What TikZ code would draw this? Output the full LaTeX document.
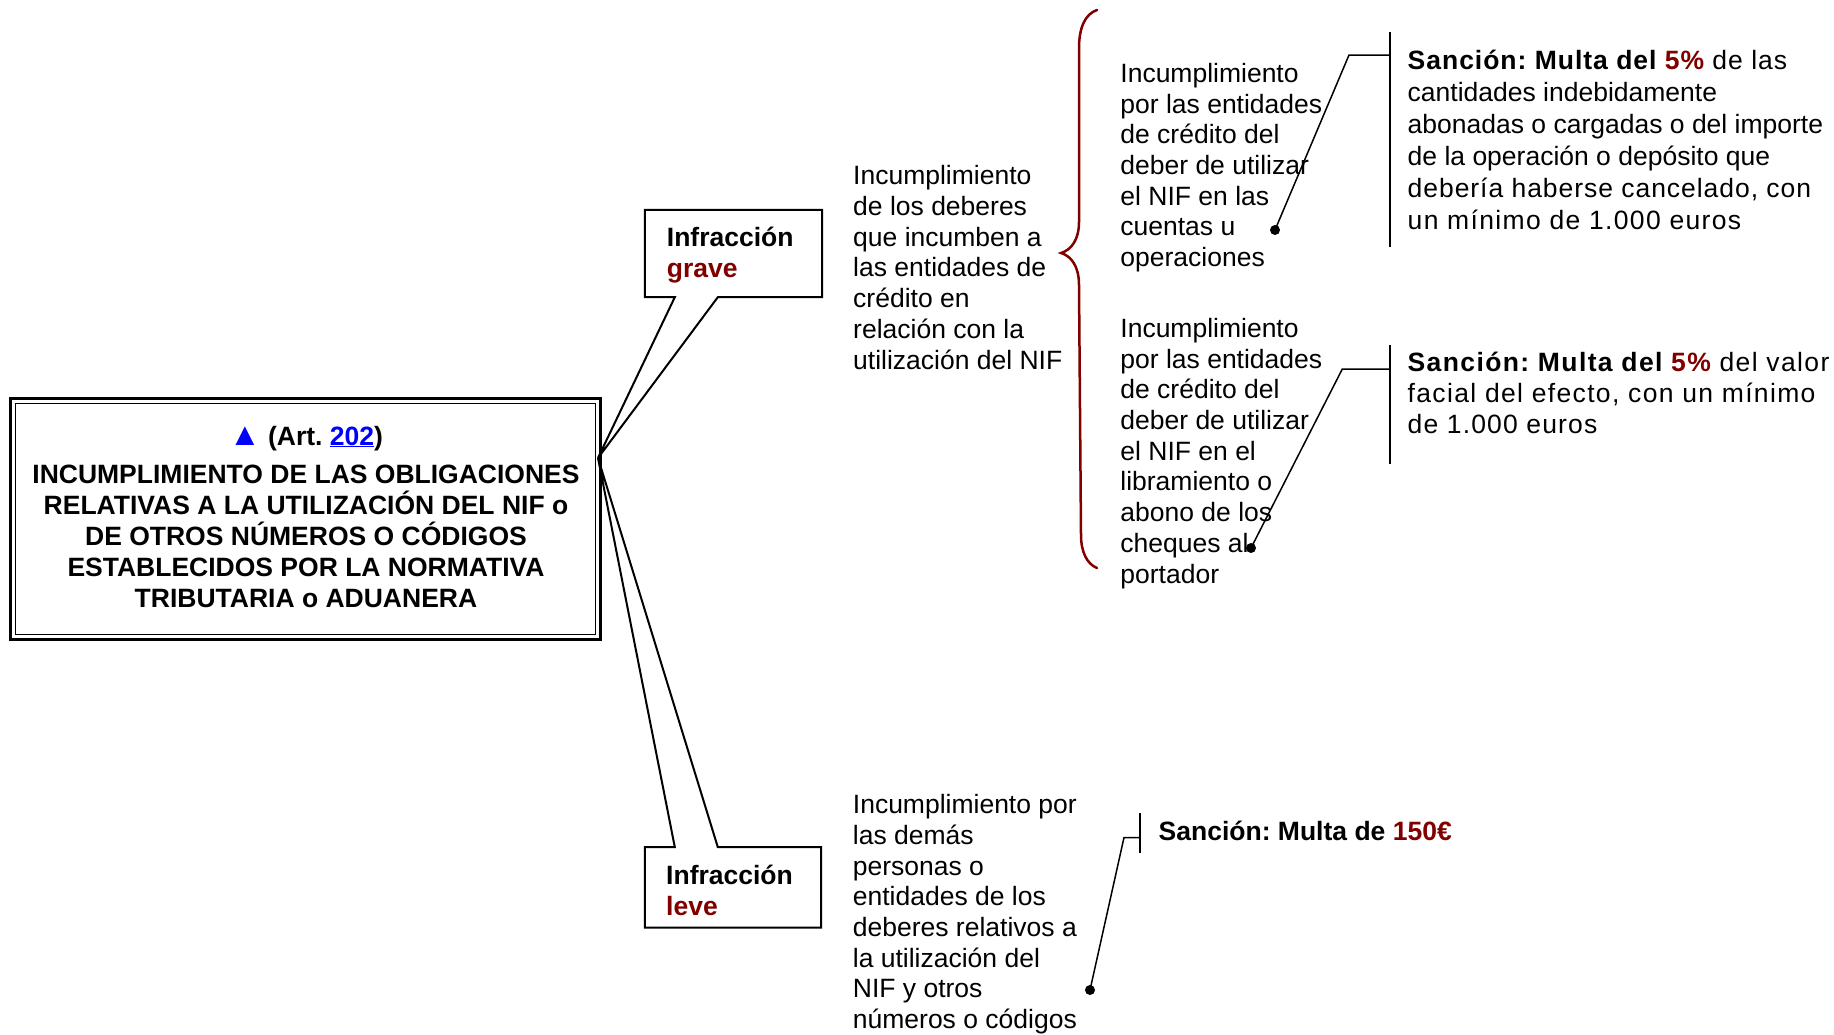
\documentclass[tikz,border=0pt]{standalone}
\usepackage{fontspec}
\setmainfont{Liberation Sans}
\usetikzlibrary{calc}
\definecolor{maroon}{RGB}{128,0,0}
\definecolor{linkblue}{RGB}{0,0,255}
\newcommand{\hl}[1]{\textcolor{maroon}{#1}}
\newcommand{\spaced}[2]{{\addfontfeatures{LetterSpace=#1}#2}}
\frenchspacing

% Multi-line nodes below are placed by the baseline of their last line.
\begin{document}
\begin{tikzpicture}[x=1pt,y=-1pt,
  txt/.style={inner sep=0pt, align=left, anchor=base west,
    font=\fontsize{26.5}{30.7}\selectfont},
  boldtxt/.style={txt, font=\fontsize{26.5}{30.8}\selectfont\bfseries},
  sancion/.style={txt, font=\fontsize{26.5}{#1}\selectfont},
  frame/.style={inner sep=0pt},
  conn/.style={line width=1.5pt},
  barline/.style={line width=2pt},
  callout/.style={line width=2pt, line join=miter},
  brace/.style={draw=maroon, line width=2.5pt, line cap=round},
  dot/.style={fill=black},
]
\useasboundingbox (0,0) rectangle (1834,1034);

% ---- main box with double frame ----
\node[frame, minimum width=590pt, minimum height=241pt] (main) at (305.5,519) {};
\coordinate (hub) at (598,458);

% ---- callout boxes (drawn before the main frame) ----
\node[frame, minimum width=177pt, minimum height=87pt] (grave) at (733.5,253.5) {};
\draw[callout] (grave.north west) -- (grave.north east) -- (grave.south east)
  -- ($(grave.south west)+(73,0)$) -- (hub) -- ($(grave.south west)+(30,0)$)
  -- (grave.south west) -- cycle;
\node[boldtxt] (gravetxt) at (666.7,277.5) {Infracción\\\hl{grave}};

\node[frame, minimum width=176pt, minimum height=80pt] (leve) at (733,887.3) {};
\draw[callout] (leve.south west) -- (leve.north west)
  -- ($(leve.north west)+(30,0)$) -- (hub) -- ($(leve.north west)+(73,0)$)
  -- (leve.north east) -- (leve.south east) -- cycle;
\node[boldtxt] (levetxt) at (666,915.5) {Infracción\\\hl{leve}};

\draw[line width=3pt] (main.north west) rectangle (main.south east);
\draw[line width=1.5pt] ($(main.north west)+(5,5)$) rectangle ($(main.south east)+(-5,-5)$);
\node[boldtxt, align=center, anchor=base] (title) at (306,607)
  {\textcolor{linkblue}{\fontsize{32}{30}\selectfont▲} (Art. \textcolor{linkblue}{\underline{202}})\\[8pt]
   INCUMPLIMIENTO DE LAS OBLIGACIONES\\
   RELATIVAS A LA UTILIZACIÓN DEL NIF o\\
   DE OTROS NÚMEROS O CÓDIGOS\\
   ESTABLECIDOS POR LA NORMATIVA\\
   TRIBUTARIA o ADUANERA};

% ---- serious infringement: description and brace ----
\node[txt] (dutyA) at (853,369) {Incumplimiento\\de los deberes\\que incumben a\\las entidades de\\crédito en\\relación con la\\utilización del NIF};

\draw[brace] (1097,10) .. controls (1085,14) and (1079,28) .. (1079,48)
  -- (1079,222) .. controls (1079,240) and (1071,250) .. (1061,253)
  .. controls (1071,256) and (1079,266) .. (1079,285)
  -- (1081,535) .. controls (1081,552) and (1087,564) .. (1097,568);

\node[txt] (dutyB1) at (1120.2,266.5) {Incumplimiento\\por las entidades\\de crédito del\\deber de utilizar\\el NIF en las\\cuentas u\\operaciones};
\node[txt] (dutyB2) at (1120.2,583) {Incumplimiento\\por las entidades\\de crédito del\\deber de utilizar\\el NIF en el\\libramiento o\\abono de los\\cheques al\\portador};

% ---- penalties ----
\node[sancion=32] (pen1) at (1407.5,229.2) {%
  \spaced{3.7}{\textbf{Sanción: Multa del \hl{5\%}} de las}\\
  cantidades indebidamente\\
  abonadas o cargadas o del importe\\
  de la operación o depósito que\\
  \spaced{3.6}{debería haberse cancelado, con}\\
  \spaced{5.1}{un mínimo de 1.000 euros}};
\node[sancion=31] (pen2) at (1407.5,433) {%
  \spaced{5.2}{\textbf{Sanción: Multa del \hl{5\%}} del valor}\\
  \spaced{5.1}{facial del efecto, con un mínimo}\\
  \spaced{4.4}{de 1.000 euros}};
\node[boldtxt] (pen3) at (1158.5,840) {Sanción: Multa de \hl{150€}};

% ---- duty of others (minor infringement) ----
\node[txt] (dutyC) at (852.7,1028.5) {Incumplimiento por\\las demás\\personas o\\entidades de los\\deberes relativos a\\la utilización del\\NIF y otros\\números o códigos};

% ---- connectors: dot, slanted leg, tee to bracket bar ----
\coordinate (dot1) at (1275,230);
\coordinate (knee1) at (1349,55);
\coordinate (tee1) at (1389.5,55);
\coordinate (bar1top) at (1389.5,32);
\coordinate (bar1bot) at (1389.5,246.5);
\draw[conn] (dot1) -- (knee1) -- (tee1);
\draw[barline] (bar1top) -- (bar1bot);
\fill[dot] (dot1) circle (5pt);

\coordinate (dot2) at (1251,548);
\coordinate (knee2) at (1342.3,369);
\coordinate (tee2) at (1389.5,369);
\coordinate (bar2top) at (1389.5,345);
\coordinate (bar2bot) at (1389.5,464);
\draw[conn] (dot2) -- (knee2) -- (tee2);
\draw[barline] (bar2top) -- (bar2bot);
\fill[dot] (dot2) circle (5pt);

\coordinate (dot3) at (1090,990);
\coordinate (knee3) at (1124,837.5);
\coordinate (tee3) at (1140,837.5);
\coordinate (bar3top) at (1140,813);
\coordinate (bar3bot) at (1140,853);
\draw[conn] (dot3) -- (knee3) -- (tee3);
\draw[barline] (bar3top) -- (bar3bot);
\fill[dot] (dot3) circle (5pt);
\end{tikzpicture}
\end{document}
